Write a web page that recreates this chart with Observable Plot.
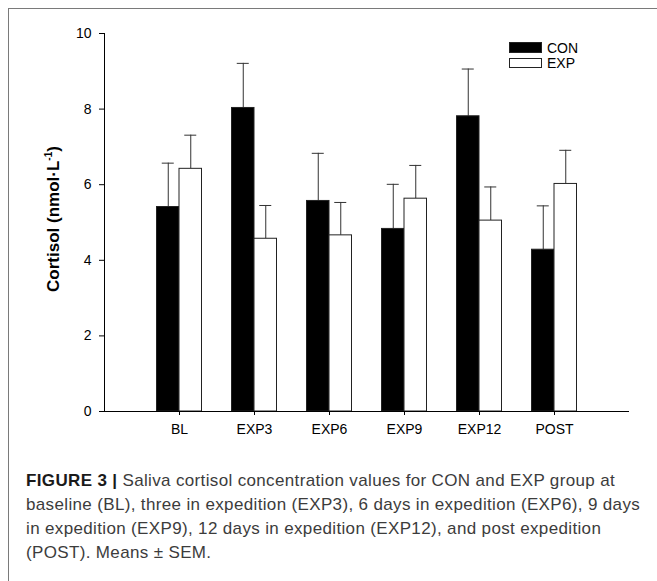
<!DOCTYPE html>
<html>
<head>
<meta charset="utf-8">
<script src="https://cdn.jsdelivr.net/npm/d3@7"></script>
<script src="https://cdn.jsdelivr.net/npm/@observablehq/plot@0.6"></script>
<style>
  html, body { margin: 0; padding: 0; background: #fff; }
  #fig { position: relative; width: 657px; height: 581px; overflow: hidden; background: #fff; }
  #frame { position: absolute; left: 8px; top: 8px; width: 700px; height: 700px;
           border-left: 1px solid #7a7a7a; border-top: 1px solid #7a7a7a; }
  #chart { position: absolute; left: 0; top: 0; }
  #legend { position: absolute; left: 509px; top: 40px; font: 14px "Liberation Sans", Arial, sans-serif; color: #000; }
  .lg { display: flex; align-items: center; height: 15px; }
  .sw { width: 33px; height: 10px; box-sizing: border-box; border: 1px solid #222; margin-right: 5px; }
  #caption { position: absolute; left: 26px; top: 469px; width: 640px;
             font: 17px/24px "Liberation Sans", Arial, sans-serif; letter-spacing: 0.35px; color: #3c3c3c; white-space: nowrap; }
  #caption b { color: #1a1a1a; }
</style>
</head>
<body>
<div id="fig">
  <div id="frame"></div>
  <div id="chart"></div>
  <div id="legend"></div>
  <div id="caption"></div>
</div>
<script>
const categories = ["BL", "EXP3", "EXP6", "EXP9", "EXP12", "POST"];
const series = ["CON", "EXP"];
const conMean = [5.41, 8.03, 5.57, 4.83, 7.81, 4.28];
const conSem  = [1.16, 1.18, 1.26, 1.18, 1.25, 1.16];
const expMean = [6.42, 4.57, 4.66, 5.63, 5.05, 6.02];
const expSem  = [0.89, 0.88, 0.87, 0.88, 0.89, 0.89];
const yTicks = [0, 2, 4, 6, 8, 10];
const yLabel = "Cortisol (nmol\u00B7L";
const captionLines = [
  ["FIGURE 3 |", " Saliva cortisol concentration values for CON and EXP group at"],
  ["", "baseline (BL), three in expedition (EXP3), 6 days in expedition (EXP6), 9 days"],
  ["", "in expedition (EXP9), 12 days in expedition (EXP12), and post expedition"],
  ["", "(POST). Means \u00B1 SEM."]
];

const fills = {CON: "#000", EXP: "#fff"};
const halfBar = 0.3;
const capHalf = 0.08;

const rows = [];
categories.forEach((c, i) => {
  rows.push({cat: c, s: "CON", i: i + 1, x1: i + 1 - halfBar, x2: i + 1, mean: conMean[i], sem: conSem[i]});
  rows.push({cat: c, s: "EXP", i: i + 1, x1: i + 1, x2: i + 1 + halfBar, mean: expMean[i], sem: expSem[i]});
});
rows.forEach(d => { d.xc = (d.x1 + d.x2) / 2; d.top = d.mean + d.sem; });

const chart = Plot.plot({
  width: 657,
  height: 450,
  marginLeft: 104,
  marginRight: 28,
  marginTop: 33,
  marginBottom: 39,
  style: {fontFamily: "'Liberation Sans', Arial, sans-serif", color: "#000", background: "transparent"},
  x: {domain: [0, categories.length + 1], label: null},
  y: {domain: [0, 10], label: null},
  marks: [
    Plot.axisX({ticks: categories.map((c, i) => i + 1), tickFormat: d => categories[d - 1],
                tickSize: 4, tickPadding: 9, fontSize: 14, label: null}),
    Plot.axisY({ticks: yTicks, tickSize: 5, tickPadding: 8, fontSize: 14, label: null}),
    Plot.ruleX(rows, {x: "xc", y1: "mean", y2: "top", stroke: "#333", strokeWidth: 1}),
    Plot.ruleY(rows, {y: "top", x1: d => d.xc - capHalf, x2: d => d.xc + capHalf, stroke: "#333", strokeWidth: 1}),
    Plot.rectY(rows, {x1: "x1", x2: "x2", y1: 0, y2: "mean", fill: d => fills[d.s], stroke: "#222", strokeWidth: 1}),
    Plot.ruleY([0], {stroke: "#000"}),
    Plot.ruleX([0], {stroke: "#000"})
  ]
});
document.getElementById("chart").appendChild(chart);

// y-axis title with superscript
const svg = d3.select(chart);
const t = svg.append("text")
  .attr("transform", "translate(59,219) rotate(-90)")
  .attr("text-anchor", "middle")
  .attr("font-weight", "bold")
  .attr("font-size", 17)
  .attr("fill", "#000");
t.append("tspan").text(yLabel);
t.append("tspan").attr("dy", -7).attr("font-size", 10).text("-1");
t.append("tspan").attr("dy", 7).text(")");

// legend
const lg = d3.select("#legend");
series.forEach(s => {
  const row = lg.append("div").attr("class", "lg");
  row.append("div").attr("class", "sw").style("background", fills[s]).style("height", s === "CON" ? "11px" : "10px");
  row.append("span").text(s);
});

// caption
const cap = d3.select("#caption");
captionLines.forEach(([b, rest]) => {
  const line = cap.append("div");
  if (b) line.append("b").text(b);
  line.append("span").text(rest);
});
</script>
</body>
</html>
